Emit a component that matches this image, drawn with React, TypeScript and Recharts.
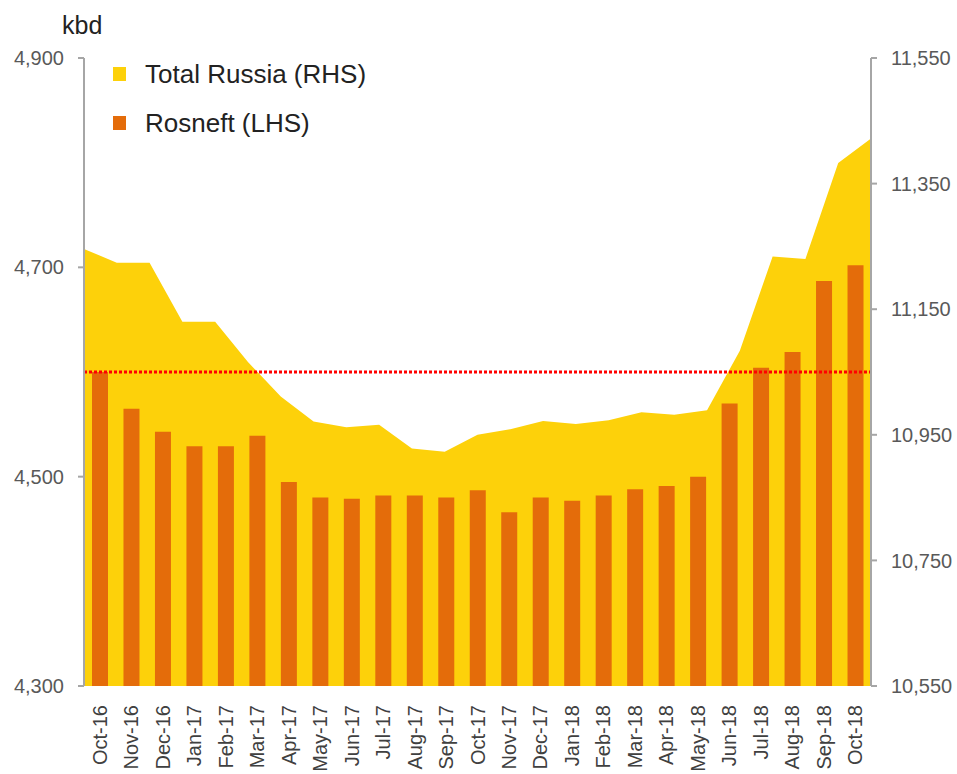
import { ComposedChart, Area, Bar, XAxis, YAxis, ReferenceLine } from 'recharts';

const months = [
  'Oct-16', 'Nov-16', 'Dec-16', 'Jan-17', 'Feb-17', 'Mar-17', 'Apr-17', 'May-17', 'Jun-17',
  'Jul-17', 'Aug-17', 'Sep-17', 'Oct-17', 'Nov-17', 'Dec-17', 'Jan-18', 'Feb-18', 'Mar-18',
  'Apr-18', 'May-18', 'Jun-18', 'Jul-18', 'Aug-18', 'Sep-18', 'Oct-18',
];

// Rosneft output, kbd (left axis)
const rosneft = [
  4600, 4565, 4543, 4529, 4529, 4539, 4495, 4480, 4479,
  4482, 4482, 4480, 4487, 4466, 4480, 4477, 4482, 4488,
  4491, 4500, 4570, 4604, 4619, 4687, 4702,
];

// Total Russia output, kbd (right axis)
const totalRussia = [
  11246, 11224, 11224, 11130, 11130, 11066, 11011, 10971, 10962,
  10966, 10928, 10923, 10950, 10959, 10972, 10967, 10973, 10986,
  10982, 10989, 11084, 11234, 11230, 11383, 11422,
];

const leftTicks = [4300, 4500, 4700, 4900];
const rightTicks = [10550, 10750, 10950, 11150, 11350, 11550];
const threshold = 4600;

const data = months.map((m, i) => ({
  month: m,
  idx: i,
  rosneft: rosneft[i],
  total: totalRussia[i],
}));
const idxTicks = months.map((_, i) => i);

const font = '"Liberation Sans", Arial, sans-serif';
const axisGray = '#A6A6A6';
const yellow = '#FDD10A';
const orange = '#E46C0A';

function MonthTick({ x, y, payload }: any) {
  return (
    <text
      x={0}
      y={0}
      transform={`translate(${x},${y + 19}) rotate(-90)`}
      textAnchor="end"
      dy="0.35em"
      fill="#404040"
      fontSize={20}
      fontFamily={font}
    >
      {payload.value}
    </text>
  );
}

const fmt = (v: number) => v.toLocaleString('en-US');

export default function App() {
  return (
    <div style={{ position: 'relative', width: 957, height: 774, fontFamily: font }}>
      <style>{'body{margin:0}'}</style>
      <ComposedChart
        width={957}
        height={774}
        data={data}
        margin={{ top: 58, right: 0, bottom: 0, left: 0 }}
      >
        <XAxis
          xAxisId="a"
          type="number"
          dataKey="idx"
          domain={[0, 24]}
          ticks={idxTicks}
          interval={0}
          tick={false}
          tickSize={6}
          height={0}
          axisLine={{ stroke: axisGray, strokeWidth: 2 }}
          tickLine={{ stroke: axisGray, strokeWidth: 2 }}
        />
        <XAxis
          xAxisId="b"
          dataKey="month"
          type="category"
          height={88}
          interval={0}
          axisLine={false}
          tickLine={false}
          tickSize={0}
          tickMargin={0}
          tick={<MonthTick />}
        />
        <YAxis
          yAxisId="l"
          orientation="left"
          width={84}
          domain={[4300, 4900]}
          ticks={leftTicks}
          tickFormatter={fmt}
          tickSize={6}
          tickMargin={14}
          axisLine={{ stroke: axisGray, strokeWidth: 2 }}
          tickLine={{ stroke: axisGray, strokeWidth: 2 }}
          tick={{ fill: '#595959', fontSize: 20, fontFamily: font }}
        />
        <YAxis
          yAxisId="r"
          orientation="right"
          width={86}
          domain={[10550, 11550]}
          ticks={rightTicks}
          tickFormatter={fmt}
          tickSize={6}
          tickMargin={14}
          axisLine={{ stroke: axisGray, strokeWidth: 2 }}
          tickLine={{ stroke: axisGray, strokeWidth: 2 }}
          tick={{ fill: '#595959', fontSize: 20, fontFamily: font }}
        />
        <Area
          xAxisId="a"
          yAxisId="r"
          type="linear"
          dataKey="total"
          fill={yellow}
          fillOpacity={1}
          stroke="none"
          isAnimationActive={false}
        />
        <Bar
          xAxisId="b"
          yAxisId="l"
          dataKey="rosneft"
          fill={orange}
          barSize={16}
          isAnimationActive={false}
        />
        <ReferenceLine
          xAxisId="b"
          yAxisId="l"
          y={threshold}
          stroke="#FF0000"
          strokeWidth={3}
          strokeDasharray="3 2"
        />
      </ComposedChart>
      <div style={{ position: 'absolute', left: 62, top: 8, fontSize: 25, color: '#222', lineHeight: '34px' }}>
        kbd
      </div>
      <div style={{ position: 'absolute', left: 113, top: 57, color: '#222', fontSize: 26 }}>
        {[
          { name: 'Total Russia (RHS)', color: yellow },
          { name: 'Rosneft (LHS)', color: orange },
        ].map((it) => (
          <div key={it.name} style={{ display: 'flex', alignItems: 'center', height: 34, marginBottom: 15 }}>
            <span style={{ width: 13, height: 14, background: it.color, marginRight: 19 }} />
            <span>{it.name}</span>
          </div>
        ))}
      </div>
    </div>
  );
}
